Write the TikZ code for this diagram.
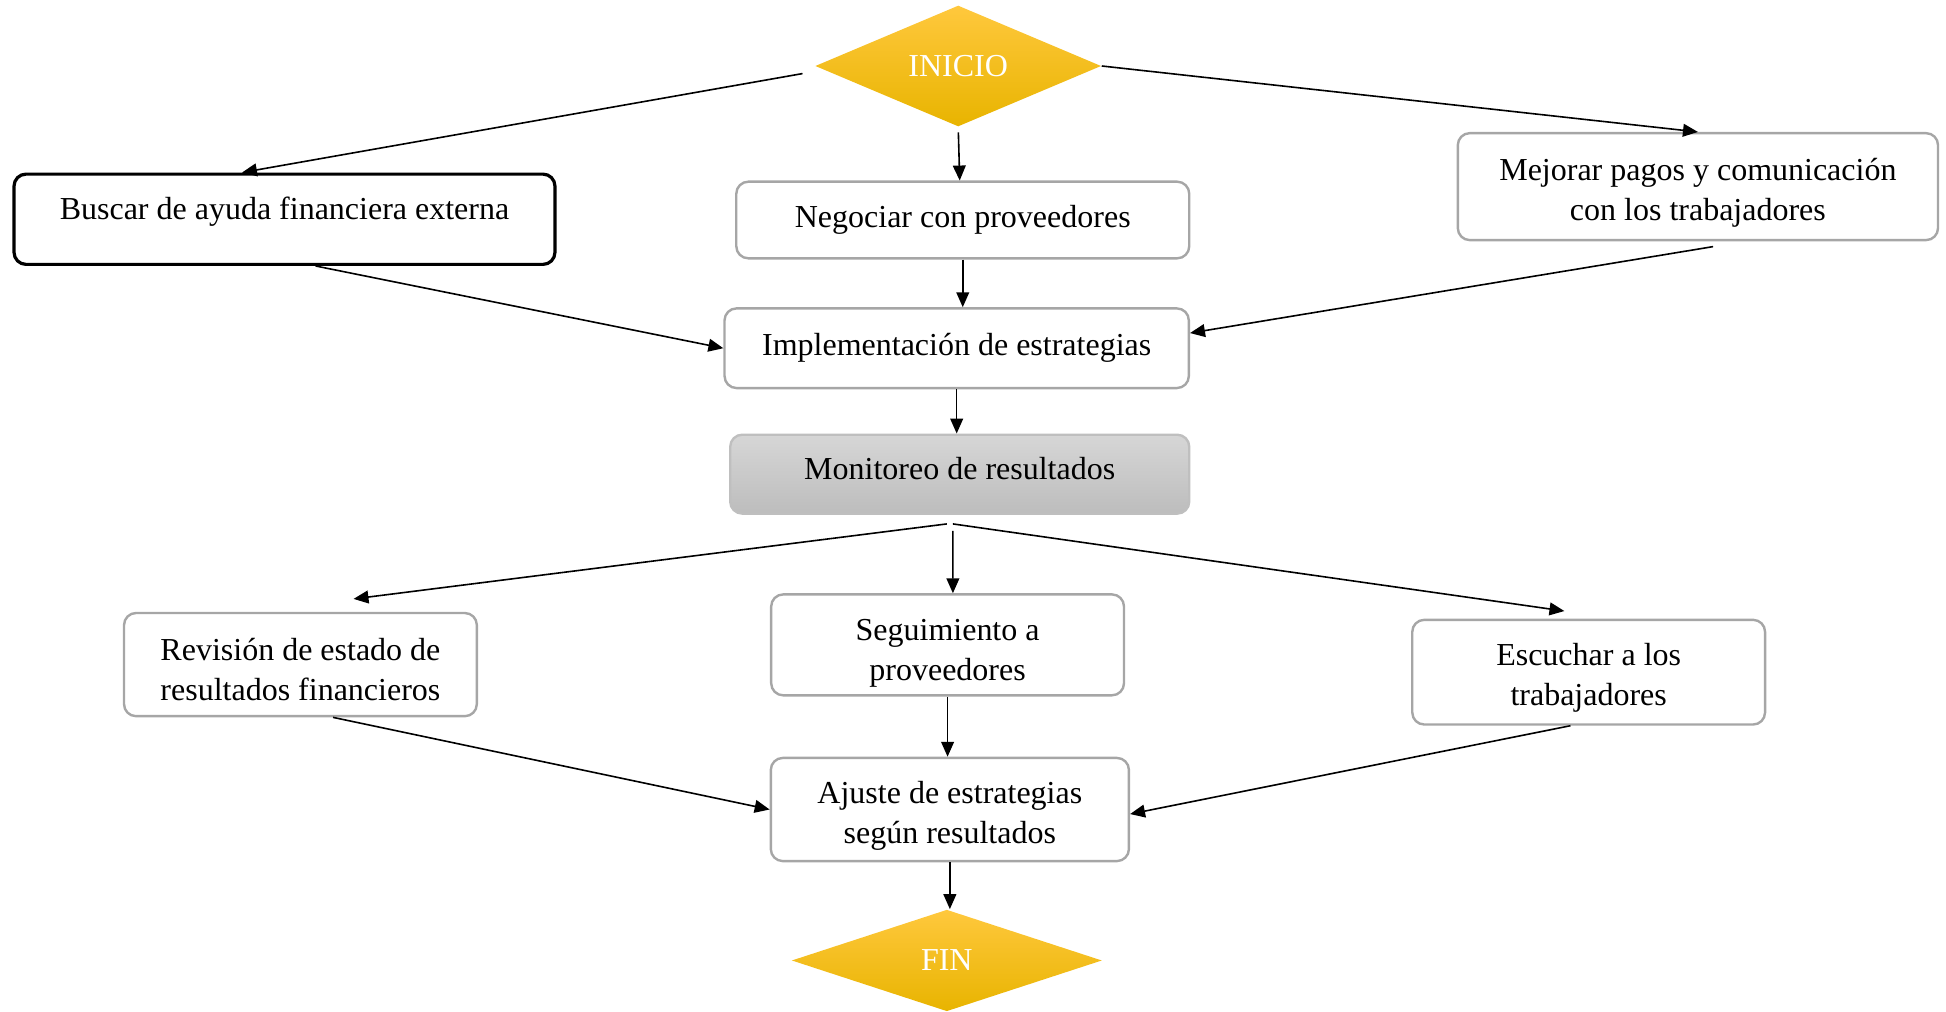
\documentclass[tikz,border=0pt]{standalone}
\usepackage{fontspec}
\setmainfont{Liberation Serif}
\usetikzlibrary{shapes.geometric,arrows.meta}
\definecolor{boxgray}{HTML}{A6A6A6}
\definecolor{goldtop}{HTML}{FFC83D}
\definecolor{goldmid}{HTML}{FFC000}
\definecolor{goldbot}{HTML}{E8B400}
\newcommand{\topgap}[1]{\rule{0pt}{#1}}
\begin{document}
\begin{tikzpicture}[
  font=\fontsize{12}{15}\selectfont,
  box/.style={draw=boxgray, line width=0.9pt, rounded corners=4.5pt, fill=white, align=center, inner sep=0pt},
  darkbox/.style={box, draw=black, line width=1.2pt},
  greybox/.style={box, draw=black!25, top color=black!16, bottom color=black!26},
  term/.style={diamond, inner sep=0pt, text=white, top color=goldtop, middle color=goldmid, bottom color=goldbot},
  arr/.style={-{Triangle[length=5.6pt,width=4.8pt]}, line width=0.6pt}]
\useasboundingbox (0,0) rectangle (25.65,13.33);
\node[term, minimum width=3.77cm, minimum height=1.52cm] (inicio) at (12.63,12.46) {INICIO};
\node[darkbox, minimum width=7.13cm, minimum height=1.19cm, text depth=8pt] (buscar) at (3.75,10.44) {Buscar de ayuda financiera externa};
\node[box, minimum width=5.97cm, minimum height=1.01cm] (negociar) at (12.69,10.43) {Negociar con proveedores};
\node[box, minimum width=6.33cm, minimum height=1.41cm] (mejorar) at (22.38,10.87) {\topgap{12.8pt}Mejorar pagos y comunicación\\con los trabajadores};
\node[box, minimum width=6.12cm, minimum height=1.05cm] (impl) at (12.61,8.74) {Implementación de estrategias};
\node[greybox, minimum width=6.05cm, minimum height=1.04cm, text depth=4.5pt] (monitoreo) at (12.65,7.08) {Monitoreo de resultados};
\node[box, minimum width=4.65cm, minimum height=1.36cm] (revision) at (3.96,4.57) {\topgap{11.8pt}Revisión de estado de\\resultados financieros};
\node[box, minimum width=4.65cm, minimum height=1.33cm] (seguimiento) at (12.49,4.83) {\topgap{14.6pt}Seguimiento a\\proveedores};
\node[box, minimum width=4.65cm, minimum height=1.38cm] (escuchar) at (20.94,4.47) {\topgap{12.4pt}Escuchar a los\\trabajadores};
\node[box, minimum width=4.72cm, minimum height=1.36cm] (ajuste) at (12.52,2.66) {\topgap{13.2pt}Ajuste de estrategias\\según resultados};
\node[term, minimum width=4.09cm, minimum height=1.34cm] (fin) at (12.48,0.67) {FIN};
\draw[arr] ([shift={(-0.16,-0.1)}]inicio.west) -- ([xshift=-0.56cm]buscar.north);
\draw[arr, shorten <=2pt] (inicio.south) -- ([xshift=-0.04cm]negociar.north);
\draw[arr] (inicio.east) -- (mejorar.north);
\draw[arr] ([xshift=0.41cm]buscar.south) -- (impl.west);
\draw[arr] (negociar.south) -- (negociar.south |- impl.north);
\draw[arr] ([shift={(0.2,-0.07)}]mejorar.south) -- ([yshift=0.2cm]impl.east);
\draw[arr] (impl.south) -- (impl.south |- monitoreo.north);
\draw[arr] ([shift={(-0.17,-0.12)}]monitoreo.south) -- ([shift={(0.7,0.17)}]revision.north);
\draw[arr] ([shift={(-0.09,-0.21)}]monitoreo.south) -- ([xshift=0.07cm]seguimiento.north);
\draw[arr] ([shift={(-0.09,-0.12)}]monitoreo.south) -- ([shift={(-0.32,0.1)}]escuchar.north);
\draw[arr] ([xshift=0.43cm]revision.south) -- (ajuste.west);
\draw[arr] (seguimiento.south) -- (seguimiento.south |- ajuste.north);
\draw[arr] ([xshift=-0.24cm]escuchar.south) -- ([yshift=-0.06cm]ajuste.east);
\draw[arr] (ajuste.south) -- (ajuste.south |- fin.north);
\end{tikzpicture}
\end{document}
